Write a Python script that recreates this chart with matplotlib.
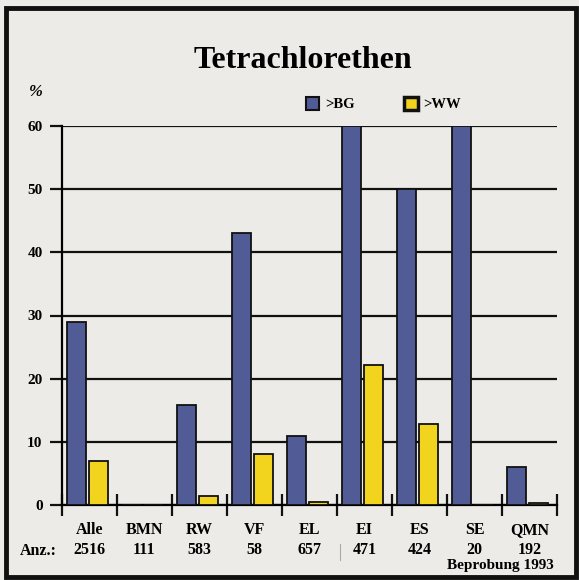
import numpy as np
import matplotlib.pyplot as plt
from matplotlib.patches import Rectangle, Patch
from matplotlib.lines import Line2D

# Anteil der Messstellen ueber Bestimmungsgrenze / Warnwert
categories = ['Alle', 'BMN', 'RW', 'VF', 'EL', 'EI', 'ES', 'SE', 'QMN']
counts = ['2516', '111', '583', '58', '657', '471', '424', '20', '192']
above_bg = [29, 0, 15.8, 43, 11, 60, 50, 60, 6]
above_ww = [7, 0, 1.4, 8.1, 0.5, 22.2, 12.9, 0, 0.3]
yticks = [0, 10, 20, 30, 40, 50, 60]

blue = '#515c96'
yellow = '#f2d41f'
bg = '#ecebe7'
serif = ['Liberation Serif', 'DejaVu Serif']

fig = plt.figure(figsize=(5.79, 5.80), dpi=100, facecolor=bg)
W, H = 579, 580
ax = fig.add_axes([62 / W, 1 - 505 / H, 495 / W, 379 / H])
ax.set_facecolor(bg)

x = np.arange(len(categories))
ax.bar(x + 0.27, above_bg, width=0.35, color=blue, edgecolor='#111111',
       linewidth=1.3, zorder=3)
ax.bar(x + 0.67, above_ww, width=0.35, color=yellow, edgecolor='#111111',
       linewidth=1.3, zorder=3)

ax.set_xlim(0, 9)
ax.set_ylim(0, 60)
ax.set_yticks(yticks)
ax.set_yticklabels([str(v) for v in yticks], fontfamily=serif,
                   fontweight='bold', fontsize=11)
ax.yaxis.grid(True, color='#111111', linewidth=1.6, zorder=1)
ax.tick_params(axis='y', length=9, width=1.6, color='#111111', pad=5)

ax.set_xticks(np.arange(0, 10))
ax.set_xticklabels([])
ax.tick_params(axis='x', direction='inout', length=16, width=1.6,
               color='#111111')

for side in ['top', 'right']:
    ax.spines[side].set_visible(False)
ax.spines['left'].set_linewidth(1.6)
ax.spines['bottom'].set_linewidth(1.6)
ax.spines['left'].set_bounds(0, 60)

# Kategorien und Anzahl unter der Achse
trans = ax.get_xaxis_transform()
for i, (cat, n) in enumerate(zip(categories, counts)):
    ax.text(i + 0.5, -0.065, cat, transform=trans, ha='center', va='center',
            fontfamily=serif, fontweight='bold', fontsize=11.5)
    ax.text(i + 0.5, -0.12, n, transform=trans, ha='center', va='center',
            fontfamily=serif, fontweight='bold', fontsize=11.5)
fig.text(20 / W, 1 - 551 / H, 'Anz.:', ha='left', va='center',
         fontfamily=serif, fontweight='bold', fontsize=11.5)
fig.text(554 / W, 1 - 566 / H, 'Beprobung 1993', ha='right', va='center',
         fontfamily=serif, fontweight='bold', fontsize=11)
fig.add_artist(Line2D([340 / W, 340 / W], [1 - 560 / H, 1 - 544 / H],
                      color='#aaaaaa', linewidth=0.8))

fig.text(303 / W, 1 - 60 / H, 'Tetrachlorethen', ha='center', va='center',
         fontfamily=serif, fontweight='bold', fontsize=23)
fig.text(36 / W, 1 - 92 / H, '%', ha='center', va='center',
         fontfamily=serif, fontweight='bold', fontsize=12, style='italic')

handles = [Patch(facecolor=blue, edgecolor='#111111', linewidth=1.5),
           Patch(facecolor=yellow, edgecolor='#111111', linewidth=2.5)]
fig.legend(handles, ['>BG', '>WW'], loc='center left',
           bbox_to_anchor=(299 / W, 1 - 104 / H), ncol=2, frameon=False,
           prop={'family': serif, 'weight': 'bold', 'size': 10.5},
           handlelength=0.9, handleheight=1.0, handletextpad=0.4,
           columnspacing=3.4, borderpad=0)

# schwarzer Rahmen um die Grafik
fig.add_artist(Rectangle((6 / W, 1 - 577 / H), 570 / W, 569 / H,
                         transform=fig.transFigure, fill=False,
                         edgecolor='#111111', linewidth=3.5))

fig.savefig('out.png', dpi=100, facecolor=bg)
